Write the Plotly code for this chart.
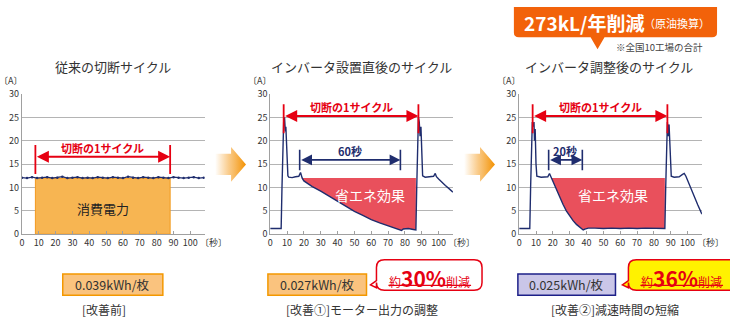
import plotly.graph_objects as go

W, H = 730, 323
FONT = "Noto Sans CJK JP"

# ---------------- data ----------------
TITLES = ["従来の切断サイクル", "インバータ設置直後のサイクル", "インバータ調整後のサイクル"]
X_TICKS = [0, 10, 20, 30, 40, 50, 60, 70, 80, 90, 100]
Y_TICKS = [0, 5, 10, 15, 20, 25, 30]

T1 = list(range(0, 109, 3))
A1 = [12.1, 12.0, 12.2, 12.0, 12.1, 12.2, 12.0, 12.1, 12.3, 12.0, 12.1, 12.2, 12.0,
      12.1, 12.0, 12.2, 12.1, 12.0, 12.2, 12.1, 12.0, 12.3, 12.1, 12.0, 12.2, 12.1,
      12.0, 12.2, 12.1, 12.0, 12.2, 12.1, 12.0, 12.1, 12.2, 12.0, 12.1]

T2 = [0, 6.5, 7, 7.5, 8, 8.5, 9, 9.3, 9.6, 10, 10.5, 11, 13, 15, 17, 18, 18.5, 19, 20,
      25, 30, 35, 40, 45, 50, 55, 60, 65, 70, 75, 78, 79, 82, 85, 86.5, 87, 87.5, 88,
      88.5, 89, 89.5, 90, 90.5, 92, 95, 97, 98, 98.7, 100, 102, 104, 106, 108.5]
A2 = [1.2, 1.2, 10, 20, 24, 25, 22, 23, 20, 15, 12.5, 12.2, 12.1, 12.3, 12.4, 13.2, 12.6,
      12.0, 11.4, 10.2, 9.2, 8.1, 7.0, 5.9, 4.9, 4.0, 3.1, 2.4, 1.8, 1.2, 0.8, 1.1, 1.2,
      1.0, 0.9, 10, 20, 25, 24, 21, 23, 19, 12.5, 12.2, 12.3, 12.4, 13.0, 12.3, 11.8,
      11.0, 10.4, 9.8, 9.0]

T3 = [0, 6.3, 6.8, 7.3, 7.8, 8.3, 8.8, 9.1, 9.5, 10, 10.5, 13, 15, 17, 18, 18.6, 19.2,
      20, 22, 24, 26, 28, 30, 32, 34, 36, 38, 39, 41, 45, 50, 55, 60, 65, 70, 75, 80, 85,
      86.5, 87, 87.5, 88, 88.5, 89, 89.4, 89.8, 90.3, 92, 95, 97, 98, 99, 100, 102, 104,
      106, 108.5]
A3 = [1.2, 1.2, 10, 20, 24, 23, 24, 20, 22.5, 15, 12.4, 12.2, 12.3, 12.3, 13.0, 12.5,
      12.0, 11.3, 9.6, 7.9, 6.4, 5.0, 3.9, 2.9, 2.1, 1.5, 0.9, 1.1, 1.3, 1.3, 1.2, 1.3,
      1.2, 1.3, 1.2, 1.3, 1.2, 1.2, 1.2, 10, 20, 24, 21, 23.5, 20, 15, 12.4, 12.2, 12.3,
      12.8, 13.0, 12.4, 11.5, 9.5, 7.9, 6.3, 4.3]

CYCLE_START, CYCLE_END = 8, 88          # 切断の1サイクル
CONSUMPTION = 12                        # 消費電力 level (A)
SAVE_FROM, SAVE_TO = 19, 86.5           # 省エネ効果 region
DECEL_SPANS = [(17.5, 77.3, "60秒"), (17.5, 37.5, "20秒")]
ENERGY = ["0.039kWh/枚", "0.027kWh/枚", "0.025kWh/枚"]
CAPTIONS = ["[改善前]", "[改善①]モーター出力の調整", "[改善②]減速時間の短縮"]
REDUCTION = ["30%", "36%"]

# ---------------- layout helpers ----------------
NAVY = "#1f2d6e"
RED = "#e60012"
ORANGE = "#f39800"
X_RANGE = [0, 108.5]
PANEL_X = [(19, 202.5), (268.3, 451.8), (518.3, 701.8)]
PLOT_TOP, PLOT_BOT = 90.7, 236.7

fig = go.Figure()

def ax(i):
    return ("x" if i == 0 else f"x{i+1}"), ("y" if i == 0 else f"y{i+1}")

for i in range(3):
    xa, ya = ax(i)
    x0, x1 = PANEL_X[i]
    fig.layout[("xaxis" if i == 0 else f"xaxis{i+1}")] = dict(
        domain=[x0 / W, x1 / W], range=X_RANGE, anchor=ya, tickvals=X_TICKS,
        showgrid=False, showline=True, linecolor="#a0a0a0", linewidth=1,
        ticks="inside", ticklen=3, tickcolor="#a0a0a0", zeroline=False,
        tickfont=dict(size=9, color="#333", family=FONT), fixedrange=True)
    fig.layout[("yaxis" if i == 0 else f"yaxis{i+1}")] = dict(
        domain=[1 - PLOT_BOT / H, 1 - PLOT_TOP / H], range=[0, 30], anchor=xa,
        tickvals=Y_TICKS, showgrid=True, gridcolor="#b4b4b4", gridwidth=1.3,
        showline=True, linecolor="#a0a0a0", linewidth=1, zeroline=False, ticks="",
        tickfont=dict(size=9, color="#333", family=FONT), fixedrange=True)

# pixel overlay axis for decorations
fig.layout["xaxis4"] = dict(domain=[0, 1], range=[0, W], visible=False, fixedrange=True, anchor="y4")
fig.layout["yaxis4"] = dict(domain=[0, 1], range=[H, 0], visible=False, fixedrange=True, anchor="x4")

# ---------------- panel 1 ----------------
fig.add_trace(go.Scatter(x=[CYCLE_START, CYCLE_START, CYCLE_END, CYCLE_END, CYCLE_START],
                         y=[0, CONSUMPTION, CONSUMPTION, 0, 0], fill="toself",
                         fillcolor="#f7b552", line=dict(color="#f29a20", width=1),
                         mode="lines", xaxis="x", yaxis="y", hoverinfo="skip"))
fig.add_trace(go.Scatter(x=T1, y=A1, mode="lines+markers", line=dict(color=NAVY, width=1.3),
                         marker=dict(size=2.5, color=NAVY), xaxis="x", yaxis="y"))

# ---------------- panels 2 & 3 ----------------
for i, (T, A) in enumerate([(T2, A2), (T3, A3)], start=1):
    xa, ya = ax(i)
    seg = [(t, a) for t, a in zip(T, A) if SAVE_FROM <= t <= SAVE_TO]
    px_ = [SAVE_FROM] + [s[0] for s in seg] + [seg[-1][0], SAVE_FROM]
    py_ = [CONSUMPTION] + [s[1] for s in seg] + [CONSUMPTION, CONSUMPTION]
    fig.add_trace(go.Scatter(x=px_, y=py_, fill="toself", fillcolor="#e9505c",
                             line=dict(width=0), mode="lines", xaxis=xa, yaxis=ya,
                             hoverinfo="skip"))
    fig.add_trace(go.Scatter(x=T, y=A, mode="lines", line=dict(color=NAVY, width=1.4),
                             xaxis=xa, yaxis=ya))

shapes = []
ann = []

# cycle brackets
cyc_y = [16.6, 25.3, 25.3]
for i in range(3):
    xa, ya = ax(i)
    yy = cyc_y[i]
    for xv in (CYCLE_START, CYCLE_END):
        shapes.append(dict(type="line", xref=xa, yref=ya, x0=xv, x1=xv, y0=yy - 3.7,
                           y1=yy + 2.5, line=dict(color=RED, width=1.8)))
    ann.append(dict(xref=xa, yref=ya, axref=xa, ayref=ya, x=CYCLE_END, y=yy,
                    ax=CYCLE_START, ay=yy, text="", showarrow=True, arrowhead=2,
                    arrowside="end+start", arrowsize=1.2, arrowwidth=2, arrowcolor=RED))
    ann.append(dict(xref=xa, yref=ya, x=(CYCLE_START + CYCLE_END) / 2, y=yy + 1.9,
                    text="<b>切断の1サイクル</b>", showarrow=False,
                    font=dict(size=11, color=RED, family=FONT)))

ann.append(dict(xref="x", yref="y", x=48, y=5.6, text="消費電力", showarrow=False,
                font=dict(size=13, color="#222", family=FONT)))

# decel brackets
for i, (a0, a1, lab) in enumerate(DECEL_SPANS, start=1):
    xa, ya = ax(i)
    for xv in (a0, a1):
        shapes.append(dict(type="line", xref=xa, yref=ya, x0=xv, x1=xv, y0=13.7, y1=18.1,
                           line=dict(color=NAVY, width=1.6)))
    ann.append(dict(xref=xa, yref=ya, axref=xa, ayref=ya, x=a1, y=15.9, ax=a0, ay=15.9,
                    text="", showarrow=True, arrowhead=2, arrowside="end+start",
                    arrowsize=1.2, arrowwidth=1.8, arrowcolor=NAVY))
    ann.append(dict(xref=xa, yref=ya, x=(a0 + a1) / 2, y=17.8, text=f"<b>{lab}</b>",
                    showarrow=False, font=dict(size=11, color=NAVY, family=FONT)))
    ann.append(dict(xref=xa, yref=ya, x=[59, 56][i - 1], y=8.3, text="省エネ効果",
                    showarrow=False, font=dict(size=14, color="white", family=FONT)))

# titles and axis unit labels
title_x = [110, 360, 608]
for i in range(3):
    ann.append(dict(xref="x4", yref="y4", x=title_x[i], y=62, text=TITLES[i],
                    showarrow=False, font=dict(size=13, color="#333", family=FONT)))
    x0, x1 = PANEL_X[i]
    ann.append(dict(xref="x4", yref="y4", x=x0 - 11, y=76.5, text="〔A〕", showarrow=False,
                    font=dict(size=9, color="#333", family=FONT)))
    ann.append(dict(xref="x4", yref="y4", x=x1 + 8.5, y=245, text="〔秒〕", showarrow=False,
                    font=dict(size=9, color="#333", family=FONT)))

# gradient arrows between panels
for xo in (213, 463):
    fig.add_trace(go.Scatter(
        x=[xo, xo + 16, xo + 16, xo + 31, xo + 16, xo + 16, xo, xo],
        y=[153, 153, 146, 164, 182, 175, 175, 153], mode="lines", fill="toself",
        line=dict(width=0), xaxis="x4", yaxis="y4", hoverinfo="skip",
        fillgradient=dict(type="horizontal",
                          colorscale=[[0, "rgba(245,160,40,0)"], [0.45, "rgba(245,160,40,0.55)"],
                                      [1, "rgba(243,145,0,1)"]])))

def rpath(x0, y0, x1, y1, r, ptr=None, tail=None):
    p = f"M{x0+r},{y0} L{x1-r},{y0} Q{x1},{y0} {x1},{y0+r} L{x1},{y1-r} Q{x1},{y1} {x1-r},{y1} "
    if tail:
        bx0, bx1, tx, ty = tail
        p += f"L{bx1},{y1} L{tx},{ty} L{bx0},{y1} "
    p += f"L{x0+r},{y1} Q{x0},{y1} {x0},{y1-r} "
    if ptr:
        pb, tx, ty, pt = ptr
        p += f"L{x0},{pb} L{tx},{ty} L{x0},{pt} "
    p += f"L{x0},{y0+r} Q{x0},{y0} {x0+r},{y0} Z"
    return p

# top badge
shapes.append(dict(type="path", xref="x4", yref="y4",
                   path=rpath(513, -6, 717, 31.5, 5, tail=(590, 604, 597, 44)),
                   fillcolor="#f2620a", line=dict(width=0), layer="above"))
ann.append(dict(xref="x4", yref="y4", x=583, y=16, text="<b>273kL/年削減</b>", showarrow=False,
                font=dict(size=19, color="white", family=FONT)))
ann.append(dict(xref="x4", yref="y4", x=677, y=16.5, text="（原油換算）", showarrow=False,
                font=dict(size=11, color="white", family=FONT)))
ann.append(dict(xref="x4", yref="y4", x=659, y=42, text="※全国10工場の合計", showarrow=False,
                font=dict(size=9.5, color="#444", family=FONT)))

# energy boxes
box_x = [(60, 160.5), (266, 365), (517, 615)]
box_fill = ["#fac37e", "#fac37e", "#cac6e8"]
box_line = [ORANGE, ORANGE, "#1d2088"]
cap_x = [101, 360, 615]
for i in range(3):
    bx0, bx1 = box_x[i]
    shapes.append(dict(type="rect", xref="x4", yref="y4", x0=bx0, x1=bx1, y0=278.3, y1=300.3,
                       fillcolor=box_fill[i], line=dict(color=box_line[i], width=1.5)))
    ann.append(dict(xref="x4", yref="y4", x=(bx0 + bx1) / 2, y=289.5, text=ENERGY[i],
                    showarrow=False, font=dict(size=12.5, color="#333", family=FONT)))
    ann.append(dict(xref="x4", yref="y4", x=cap_x[i], y=315.5, text=CAPTIONS[i],
                    showarrow=False, font=dict(size=12, color="#333", family=FONT)))

# reduction bubbles
bub = [(375, 481, "white"), (628, 740, "#fff200")]
for (bx0, bx1, fc), red in zip(bub, REDUCTION):
    shapes.append(dict(type="path", xref="x4", yref="y4",
                       path=rpath(bx0, 263.3, bx1, 295, 8, ptr=(292.5, bx0 - 6, 289.5, 285)),
                       fillcolor=fc, line=dict(color=RED, width=1.5)))
    cx = bx0 + 48
    shapes.append(dict(type="line", xref="x4", yref="y4", x0=cx - 36, x1=cx + 47, y0=290, y1=290,
                       line=dict(color=RED, width=1.3)))
    ann.append(dict(xref="x4", yref="y4", x=cx + 5, y=282.5,
                    text=f"<span style='font-size:12px'>約</span><b>{red}</b><span style='font-size:12px'>削減</span>",
                    showarrow=False, font=dict(size=21, color=RED, family=FONT)))

fig.update_layout(width=W, height=H, margin=dict(l=0, r=0, t=0, b=0), autosize=False,
                  showlegend=False, paper_bgcolor="white", plot_bgcolor="rgba(0,0,0,0)",
                  shapes=shapes, annotations=ann, hovermode=False,
                  font=dict(family=FONT))

fig.write_html("out.html", config={"displayModeBar": False},
               post_script="document.body.style.margin='0px';document.body.style.overflow='hidden';")
